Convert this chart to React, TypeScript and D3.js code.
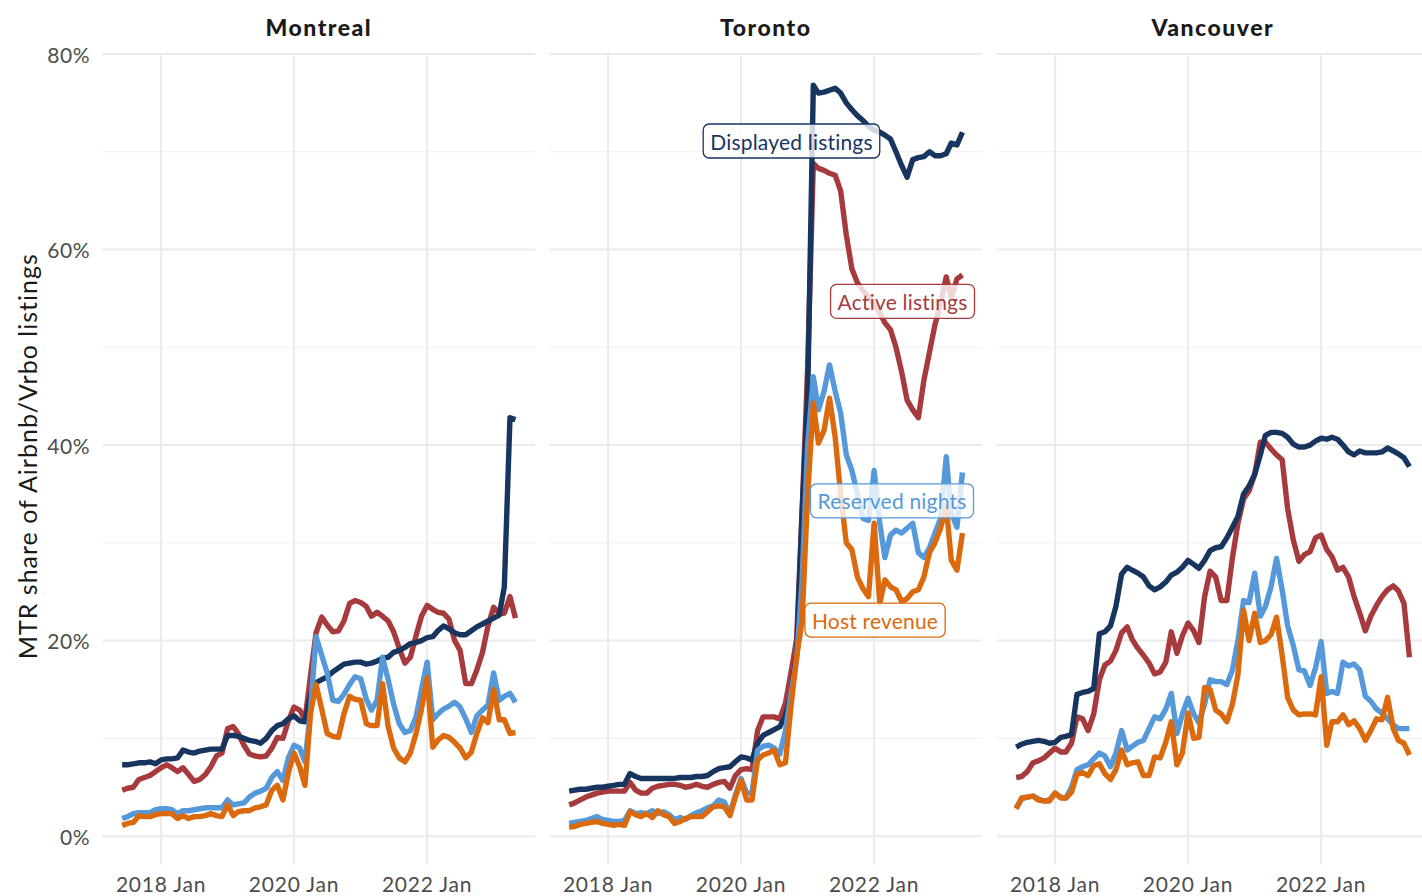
import { useEffect, useRef } from "react";
import * as d3 from "d3";

// monthly series, June 2017 .. May 2023 (72 points), values in %
const START = new Date(2017, 5, 1);
const END = new Date(2023, 4, 1);
const months = d3.timeMonth.range(START, d3.timeMonth.offset(END, 1));

const cities = ["Montreal", "Toronto", "Vancouver"];
const seriesNames = ["Active listings", "Displayed listings", "Reserved nights", "Host revenue"];
const seriesColors = ["#a63a3d", "#17355f", "#5599da", "#db6a0e"];

const yMajor = [0, 20, 40, 60, 80];
const yMinor = [10, 30, 50, 70];
const xTicks = [new Date(2018, 0, 1), new Date(2020, 0, 1), new Date(2022, 0, 1)];
const xTickLabels = ["2018 Jan", "2020 Jan", "2022 Jan"];

const montrealDisplayed = [
  7.3, 7.3, 7.4, 7.5, 7.5, 7.6, 7.4, 7.8, 7.9, 7.9,
  8.0, 8.8, 8.6, 8.5, 8.7, 8.8, 8.9, 8.9, 8.9, 10.3,
  10.3, 10.2, 10.0, 9.8, 9.7, 9.5, 10.0, 10.8, 11.3, 11.5,
  12.0, 12.3, 11.8, 11.7, 14.5, 15.7, 16.0, 16.3, 16.8, 17.2,
  17.6, 17.7, 17.8, 17.8, 17.6, 17.7, 17.9, 18.2, 18.3, 18.8,
  19.0, 19.3, 19.7, 19.8, 20.0, 20.3, 20.4, 21.0, 21.5, 21.2,
  20.8, 20.6, 20.6, 21.0, 21.4, 21.7, 22.0, 22.3, 22.6, 25.5,
  42.8, 42.6,
];
const montrealActive = [
  4.7, 4.9, 5.0, 5.8, 6.0, 6.2, 6.6, 7.0, 7.3, 7.0,
  6.6, 7.0, 6.3, 5.6, 5.8, 6.3, 7.1, 8.2, 8.5, 11.0,
  11.2, 10.5, 9.3, 8.4, 8.2, 8.1, 8.2, 9.0, 10.1, 10.0,
  11.8, 13.2, 12.9, 11.9, 16.5, 20.8, 22.4, 21.6, 20.9, 21.0,
  22.0, 23.8, 24.1, 23.9, 23.5, 22.5, 22.9, 22.5, 22.0, 20.9,
  19.2, 17.7, 18.3, 20.5, 22.5, 23.6, 23.2, 22.9, 22.8, 22.2,
  20.0, 19.0, 15.6, 15.6, 17.0, 18.8, 21.5, 23.4, 22.8, 22.8,
  24.5, 22.3,
];
const montrealReserved = [
  1.8, 2.0, 2.3, 2.4, 2.4, 2.4, 2.7, 2.8, 2.8, 2.7,
  2.3, 2.6, 2.6, 2.7, 2.8, 2.9, 2.9, 2.9, 2.9, 3.7,
  3.2, 3.3, 3.4, 4.0, 4.4, 4.6, 4.9, 6.0, 6.6, 5.7,
  8.0, 9.3, 9.0, 7.6, 13.0, 20.4, 18.5, 16.7, 13.9, 13.8,
  14.5, 15.5, 16.3, 16.1, 14.0, 12.9, 13.9, 18.3, 16.0, 13.5,
  11.5, 10.6, 10.8, 12.2, 15.0, 17.8, 11.9, 12.5, 13.0, 13.3,
  13.7, 13.2, 12.0, 10.6, 12.3, 12.9, 13.4, 16.7, 13.9, 14.3,
  14.6, 13.7,
];
const montrealRevenue = [
  1.1, 1.3, 1.4, 2.1, 2.0, 2.0, 2.2, 2.3, 2.3, 2.3,
  1.8, 2.1, 1.8, 2.0, 2.0, 2.1, 2.3, 2.1, 2.0, 3.2,
  2.1, 2.5, 2.6, 2.6, 2.9, 3.0, 3.2, 4.7, 5.2, 3.7,
  6.5, 8.5, 7.1, 5.2, 12.6, 15.5, 13.0, 10.5, 10.2, 10.1,
  12.5, 14.3, 14.0, 13.9, 11.5, 11.3, 11.3, 15.6, 11.2, 9.0,
  8.0, 7.6, 8.5, 10.5, 13.0, 16.2, 9.1, 9.8, 10.3, 10.1,
  9.6, 9.0, 8.0, 8.6, 10.5, 12.1, 11.6, 15.0, 11.9, 11.9,
  10.5, 10.6,
];

const torontoDisplayed = [
  4.6, 4.7, 4.8, 4.8, 4.9, 5.0, 5.0, 5.1, 5.2, 5.3,
  5.3, 6.4, 6.1, 5.9, 5.9, 5.9, 5.9, 5.9, 5.9, 5.9,
  6.0, 6.0, 6.0, 6.1, 6.1, 6.2, 6.6, 6.9, 7.0, 7.1,
  7.6, 8.1, 8.0, 7.8, 9.5, 10.3, 10.6, 10.9, 11.2, 12.3,
  14.5, 18.5, 33.0, 45.0, 76.8, 76.0, 76.1, 76.3, 76.5, 76.0,
  75.0, 74.3, 73.7, 73.2, 72.6, 72.2, 72.0, 71.7, 71.3, 70.0,
  68.6, 67.4, 69.2, 69.4, 69.5, 70.0, 69.6, 69.6, 69.8, 70.9,
  70.7, 72.0,
];
const torontoActive = [
  3.2, 3.4, 3.7, 4.0, 4.2, 4.4, 4.5, 4.6, 4.6, 4.6,
  4.6, 5.5, 4.7, 4.4, 4.4, 4.9, 5.1, 5.2, 5.3, 5.3,
  5.2, 5.0, 5.1, 5.3, 5.1, 5.0, 5.3, 5.5, 5.6, 4.9,
  6.2, 6.8, 6.9, 6.8, 10.8, 12.2, 12.2, 12.2, 12.0, 13.6,
  16.7, 20.1, 33.0, 48.0, 68.8, 68.3, 68.1, 67.8, 67.6, 66.0,
  61.5, 58.0, 56.6, 55.8, 55.2, 54.4, 53.5, 52.5, 51.8, 50.0,
  47.5, 44.6, 43.6, 42.8, 46.6, 49.5, 52.3, 54.5, 57.2, 55.0,
  57.0, 57.4,
];
const torontoReserved = [
  1.3, 1.4, 1.5, 1.6, 1.8, 2.0, 1.7, 1.6, 1.5, 1.5,
  1.6, 2.6, 2.3, 2.4, 2.3, 2.6, 2.3, 2.5, 2.2, 1.7,
  1.9, 1.7, 2.1, 2.4, 2.6, 2.9, 3.1, 3.7, 3.5, 2.3,
  4.2, 5.9, 4.4, 4.4, 8.8, 9.2, 9.3, 9.0, 8.4, 10.8,
  14.5, 18.0, 26.0, 40.0, 47.0, 43.6, 45.5, 48.2, 45.5, 43.3,
  39.0, 37.4, 35.0, 32.5, 32.3, 37.4, 32.0, 28.5, 30.8, 31.3,
  31.0, 31.5, 32.0, 29.0, 28.5, 29.5, 31.0, 32.5, 38.8, 33.0,
  31.6, 37.2,
];
const torontoRevenue = [
  0.9, 1.0, 1.2, 1.3, 1.4, 1.5, 1.3, 1.2, 1.1, 1.2,
  1.1, 2.5, 2.2, 2.0, 2.3, 1.9, 2.6, 2.2, 2.0, 1.3,
  1.5, 1.8, 2.0, 2.0, 2.0, 2.5, 3.0, 3.1, 3.0, 2.1,
  4.0, 5.7, 3.7, 3.7, 7.8, 8.3, 8.5, 8.8, 7.3, 7.5,
  13.2, 18.3, 22.0, 35.0, 44.3, 40.2, 41.5, 44.8, 40.8, 35.0,
  30.0, 29.3, 26.5, 25.3, 24.5, 32.0, 23.8, 26.2, 25.5, 25.2,
  24.0, 24.3, 25.0, 25.2, 26.5, 29.0, 30.0, 31.5, 33.7, 28.2,
  27.2, 31.0,
];

const vancouverDisplayed = [
  9.1, 9.4, 9.6, 9.7, 9.8, 9.7, 9.5, 9.6, 10.1, 10.2,
  10.4, 14.5, 14.7, 14.8, 15.1, 20.7, 20.9, 21.5, 23.5, 26.8,
  27.5, 27.2, 26.9, 26.5, 25.6, 25.2, 25.5, 26.0, 26.7, 27.0,
  27.5, 28.2, 27.8, 27.4, 28.2, 29.2, 29.5, 29.6, 30.5, 31.6,
  32.7, 35.0, 35.8, 37.0, 39.0, 41.0, 41.3, 41.3, 41.2, 40.8,
  40.1, 39.8, 39.8, 40.0, 40.4, 40.7, 40.6, 40.8, 40.6, 40.0,
  39.3, 39.0, 39.4, 39.2, 39.2, 39.2, 39.3, 39.7, 39.4, 39.1,
  38.7, 37.8,
];
const vancouverActive = [
  6.0, 6.1, 6.6, 7.5, 7.7, 8.0, 8.5, 9.0, 8.6, 8.6,
  9.5, 12.2, 12.0, 10.8, 12.5, 16.0, 17.5, 17.9, 19.0, 20.8,
  21.4, 20.1, 19.2, 18.5, 17.7, 16.6, 16.8, 17.8, 20.9, 18.7,
  20.5, 21.8, 21.0, 19.8, 24.5, 27.1, 26.5, 24.1, 24.1, 28.5,
  32.0, 34.5, 35.3, 37.0, 40.3, 40.3, 39.6, 39.0, 38.5, 33.5,
  30.3, 28.1, 28.8, 29.1, 30.5, 30.8, 29.3, 28.6, 27.2, 27.5,
  26.5, 24.5, 22.8, 21.0, 22.5, 23.6, 24.5, 25.2, 25.6, 25.1,
  23.8, 18.3,
];
const vancouverReserved = [
  2.9, 3.8, 4.0, 4.1, 3.8, 3.6, 3.7, 4.4, 4.0, 3.9,
  5.0, 6.8, 7.1, 7.3, 7.9, 8.5, 8.2, 7.1, 8.5, 10.8,
  8.8, 9.2, 9.6, 9.8, 11.0, 12.2, 12.0, 13.0, 14.6, 10.5,
  12.5, 14.1, 12.5, 11.6, 13.5, 16.0, 15.8, 15.8, 15.5, 17.0,
  20.0, 24.1, 23.9, 26.9, 22.5, 23.5, 25.5, 28.4, 25.2, 21.5,
  19.5, 17.0, 16.9, 15.4, 17.2, 19.9, 14.6, 14.8, 14.6, 17.8,
  17.4, 17.6, 17.0, 14.3, 13.8, 13.0, 12.6, 12.0, 11.4, 11.0,
  11.0, 11.0,
];
const vancouverRevenue = [
  2.8, 3.9, 4.0, 4.1, 3.7, 3.6, 3.6, 4.4, 3.9, 3.9,
  4.5, 6.3, 6.5, 6.2, 7.2, 7.4, 6.4, 5.8, 6.8, 8.8,
  7.3, 7.5, 7.6, 6.2, 6.2, 8.1, 8.0, 9.6, 11.7, 7.3,
  8.5, 12.6, 10.0, 10.1, 15.2, 15.0, 12.9, 12.5, 11.7, 13.5,
  16.5, 23.1, 20.0, 22.8, 19.8, 20.0, 20.6, 22.4, 18.5, 14.2,
  12.9, 12.4, 12.5, 12.5, 12.4, 16.3, 9.3, 11.7, 11.7, 12.4,
  11.4, 11.8, 11.0, 9.8, 10.8, 12.0, 11.9, 14.2, 11.0, 9.8,
  9.5, 8.3,
];

// per city, in series order
const cityData: Record<string, number[][]> = {
  Montreal: [montrealActive, montrealDisplayed, montrealReserved, montrealRevenue],
  Toronto: [torontoActive, torontoDisplayed, torontoReserved, torontoRevenue],
  Vancouver: [vancouverActive, vancouverDisplayed, vancouverReserved, vancouverRevenue],
};

// direct labels, drawn in the Toronto panel
const labelCity = "Toronto";
const labelSeries = ["Displayed listings", "Active listings", "Reserved nights", "Host revenue"];
const labelDates = [new Date(2020, 9, 4), new Date(2022, 5, 6), new Date(2022, 3, 9), new Date(2022, 0, 6)];
const labelValues = [71.1, 54.7, 34.3, 22.1];

const FONT = "Lato, 'Open Sans', sans-serif";

export default function App() {
  const svgRef = useRef<SVGSVGElement>(null);
  const width = 1422;
  const height = 896;

  useEffect(() => {
    if (!svgRef.current) return;
    const svg = d3.select(svgRef.current);
    svg.selectAll("*").remove();

    const panelLeft = 102.5;
    const panelW = 432.6;
    const panelStep = 447;
    const panelTop = 54;
    const panelBottom = 864.5;
    const pad = (panelW * 0.05) / 1.1;

    const x = d3.scaleTime().domain([START, END]).range([pad, panelW - pad]);
    const y = d3.scaleLinear().domain([-2.9, 80]).range([panelBottom, panelTop]);

    const line = d3
      .line<number>()
      .x((_d, i) => x(months[i]))
      .y((d) => y(d));

    // y axis title
    svg
      .append("text")
      .attr("transform", `translate(27,${(panelTop + panelBottom) / 2 - 3}) rotate(-90)`)
      .attr("text-anchor", "middle")
      .attr("dominant-baseline", "central")
      .attr("font-family", FONT)
      .attr("font-size", 25)
      .attr("letter-spacing", 1)
      .attr("fill", "#1a1a1a")
      .text("MTR share of Airbnb/Vrbo listings");

    // y tick labels
    svg
      .selectAll("text.ytick")
      .data(yMajor)
      .enter()
      .append("text")
      .attr("class", "ytick")
      .attr("x", 90)
      .attr("y", (d) => y(d))
      .attr("text-anchor", "end")
      .attr("dominant-baseline", "central")
      .attr("font-family", FONT)
      .attr("font-size", 21)
      .attr("letter-spacing", 0.5)
      .attr("fill", "#4d4d4d")
      .text((d) => `${d}%`);

    cities.forEach((city, ci) => {
      const g = svg.append("g").attr("transform", `translate(${panelLeft + ci * panelStep},0)`);

      // strip title
      g.append("text")
        .attr("x", panelW / 2)
        .attr("y", 27)
        .attr("text-anchor", "middle")
        .attr("dominant-baseline", "central")
        .attr("font-family", FONT)
        .attr("font-weight", 900)
        .attr("font-size", 23)
        .attr("letter-spacing", 1.5)
        .attr("fill", "#1a1a1a")
        .text(city);

      // grid
      g.selectAll("line.minor")
        .data(yMinor)
        .enter()
        .append("line")
        .attr("x1", 0)
        .attr("x2", panelW)
        .attr("y1", (d) => y(d))
        .attr("y2", (d) => y(d))
        .attr("stroke", "#f0f0f0")
        .attr("stroke-width", 1);
      g.selectAll("line.major")
        .data(yMajor)
        .enter()
        .append("line")
        .attr("x1", 0)
        .attr("x2", panelW)
        .attr("y1", (d) => y(d))
        .attr("y2", (d) => y(d))
        .attr("stroke", "#ebebeb")
        .attr("stroke-width", 2);
      g.selectAll("line.vgrid")
        .data(xTicks)
        .enter()
        .append("line")
        .attr("x1", (d) => x(d))
        .attr("x2", (d) => x(d))
        .attr("y1", panelTop)
        .attr("y2", panelBottom)
        .attr("stroke", "#ebebeb")
        .attr("stroke-width", 2);

      // x tick labels
      g.selectAll("text.xtick")
        .data(xTicks)
        .enter()
        .append("text")
        .attr("x", (d) => x(d))
        .attr("y", 883)
        .attr("text-anchor", "middle")
        .attr("dominant-baseline", "central")
        .attr("font-family", FONT)
        .attr("font-size", 21)
        .attr("letter-spacing", 0.8)
        .attr("fill", "#4d4d4d")
        .text((_d, i) => xTickLabels[i]);

      // lines
      cityData[city].forEach((values, si) => {
        g.append("path")
          .attr("d", line(values))
          .attr("fill", "none")
          .attr("stroke", seriesColors[si])
          .attr("stroke-width", 5.4)
          .attr("stroke-linejoin", "round");
      });

      // labels
      if (city === labelCity) {
        labelSeries.forEach((name, li) => {
          const color = seriesColors[seriesNames.indexOf(name)];
          const lg = g
            .append("g")
            .attr("transform", `translate(${x(labelDates[li])},${y(labelValues[li])})`);
          const rect = lg.append("rect");
          const txt = lg
            .append("text")
            .attr("text-anchor", "middle")
            .attr("dominant-baseline", "central")
            .attr("font-family", FONT)
            .attr("font-size", 21)
            .attr("letter-spacing", 0.2)
            .attr("fill", color)
            .text(name);
          const bb = (txt.node() as SVGTextElement).getBBox();
          const w = bb.width + 14;
          const h = 34;
          rect
            .attr("x", -w / 2)
            .attr("y", -h / 2)
            .attr("width", w)
            .attr("height", h)
            .attr("rx", 6)
            .attr("fill", "rgba(255,255,255,0.8)")
            .attr("stroke", color)
            .attr("stroke-width", 1.3);
        });
      }
    });
  }, []);

  return (
    <div style={{ position: "absolute", left: 0, top: 0, width, height, overflow: "hidden", background: "#fff" }}>
      <svg ref={svgRef} width={width} height={height} style={{ display: "block" }} />
    </div>
  );
}
